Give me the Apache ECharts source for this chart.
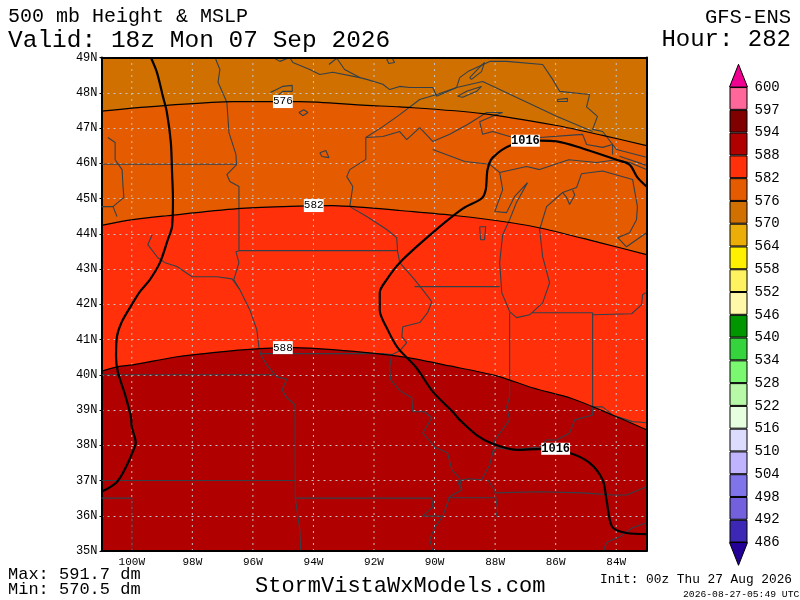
<!DOCTYPE html>
<html><head><meta charset="utf-8">
<script src="https://cdn.jsdelivr.net/npm/echarts@6/dist/echarts.min.js"></script>
<style>html,body{margin:0;background:#fff}#c{width:800px;height:600px}</style></head>
<body><div id="c"></div>
<script>
// ---- data (lon, lat) ----
const contourTop=[[-101,49],[-83,49]];
const c576=[[-101,47.48],[-98.84,47.64],[-96.66,47.75],[-94.45,47.75],[-92.24,47.64],[-91.15,47.6],[-88.41,47.41],[-85.97,47.07],[-84.45,46.79],[-83,46.5]];
const c582=[[-101,44.24],[-99.96,44.4],[-98.84,44.51],[-96.5,44.71],[-95.01,44.77],[-93.36,44.8],[-92.24,44.74],[-91.15,44.66],[-89.27,44.51],[-87.52,44.32],[-86.43,44.15],[-84.55,43.75],[-83,43.41]];
const c588=[[-101,40.1],[-100.46,40.23],[-99.96,40.28],[-98.51,40.51],[-97.32,40.63],[-95.77,40.74],[-94.68,40.77],[-93.36,40.71],[-91.15,40.52],[-89.5,40.25],[-87.95,39.97],[-86.77,39.63],[-85.45,39.32],[-84.13,38.86],[-83,38.44]];
const isobarWest=[[-99.37,49],[-99.17,48.58],[-98.97,47.89],[-98.84,47.44],[-98.71,46.59],[-98.67,45.74],[-98.64,44.97],[-98.67,44.2],[-98.81,43.83],[-99.07,43.18],[-99.4,42.7],[-99.73,42.36],[-100,41.99],[-100.33,41.5],[-100.49,41.08],[-100.52,40.51],[-100.46,40.08],[-100.22,39.43],[-100.03,38.81],[-100,38.52],[-99.87,38.07],[-99.97,37.81],[-100.16,37.44],[-100.49,36.96],[-101,36.68]];
const isobarEast=[[-83,45.34],[-83.3,45.6],[-83.56,45.96],[-83.99,46.1],[-85.11,46.42],[-85.97,46.62],[-86.53,46.64],[-87.42,46.53],[-88.08,46.16],[-88.25,45.82],[-88.31,45.25],[-88.45,45],[-89.07,44.71],[-90.06,44.03],[-91.15,43.18],[-91.58,42.7],[-91.81,42.33],[-91.81,41.84],[-91.55,41.28],[-91.22,40.77],[-90.6,40.2],[-90.06,39.52],[-89.4,38.95],[-89.17,38.72],[-88.61,38.29],[-88.08,38.04],[-87.29,37.87],[-86.43,37.9],[-85.54,37.78],[-84.88,37.5],[-84.45,37.02],[-84.32,36.45],[-84.13,35.68],[-83.66,35.51],[-83,35.48]];
const heightLabels=[[-95.01,47.75,'576'],[-93.99,44.8,'582'],[-95.01,40.77,'588']];
const pressureLabels=[[-87,46.64,'1016'],[-86,37.9,'1016']];
const gridLons=[-100,-98,-96,-94,-92,-90,-88,-86,-84];
const borders=[
 [[-101,45.97],[-96.54,45.97]],
 [[-97.25,49],[-97.09,48.66],[-97.15,48.3],[-96.86,47.73],[-96.79,46.87],[-96.56,46.25],[-96.54,45.96],[-96.86,45.68],[-96.76,45.48],[-96.46,45.34],[-96.46,43.52],[-96.56,43.49],[-96.46,43.18],[-96.63,42.7],[-96.43,42.41],[-96.1,41.84],[-95.87,41.28],[-95.8,40.77],[-95.74,40.57],[-95.54,40.28],[-95.21,39.94],[-94.88,39.88],[-95.04,39.57],[-94.88,39.35],[-94.61,39.15],[-94.6,36.5],[-94.45,35.6],[-94.42,35]],
 [[-100.79,46.73],[-100.55,46.59],[-100.55,46.1],[-100.32,45.82],[-100.29,45.34],[-100.26,45.03],[-100.62,44.77],[-101,44.77]],
 [[-100.62,44.77],[-100.49,44.49]],
 [[-99.33,43.97],[-99.47,43.69],[-99.14,43.32],[-98.9,43.18],[-98.51,43.07],[-98.01,42.78],[-97.19,42.78],[-96.69,42.72],[-96.43,42.41]],
 [[-96.46,43.52],[-91.22,43.52]],
 [[-101,40],[-95.31,40]],
 [[-95.77,40.6],[-91.73,40.6],[-91.41,40.57]],
 [[-101,37],[-94.6,37]],
 [[-101,36.5],[-100,36.5],[-100,35]],
 [[-94.6,36.5],[-90.09,36.5],[-90.06,36.25],[-90.39,35.99],[-89.73,35.99]],
 [[-92.27,46.73],[-92.27,46.11],[-92.8,45.82],[-92.9,45.62],[-92.7,45.34],[-92.8,44.77],[-92.24,44.49],[-91.58,44.12],[-91.25,43.89],[-91.22,43.49],[-91.15,43.18],[-90.66,42.7],[-90.39,42.41],[-90.09,42.07],[-90.23,41.76],[-90.49,41.48],[-91.05,41.36],[-91.08,41.08],[-90.92,40.91],[-91.15,40.68],[-91.41,40.57],[-91.48,40.23],[-91.45,39.86],[-91.15,39.55],[-90.75,39.35],[-90.72,38.95],[-90.33,38.95],[-90.09,38.78],[-90.39,38.35],[-89.99,37.95],[-89.57,37.78],[-89.43,37.3],[-89.17,37.07],[-89.1,36.74],[-89.5,36.54],[-89.73,35.98],[-89.99,35.67],[-90.16,35.33],[-90.06,35]],
 [[-90.66,42.5],[-87.85,42.5]],
 [[-87.52,41.76],[-87.52,39.38],[-87.62,39.09],[-87.52,38.72],[-88.01,38.15],[-88.08,37.78],[-88.18,37.44],[-88.45,37.02],[-88.91,37.05],[-89.25,36.98],[-89.1,36.74]],
 [[-86.79,41.76],[-84.78,41.76],[-84.78,39.09]],
 [[-84.78,41.7],[-83.49,41.73],[-83.16,41.99],[-83.13,42.27],[-83.03,42.33]],
 [[-83,38.64],[-83.46,38.67],[-84.12,38.86],[-84.45,39.09],[-84.78,39.09],[-84.78,38.86],[-85.37,38.72],[-85.54,38.35],[-85.97,38.15],[-86.3,38.15],[-86.53,37.95],[-87.42,37.87],[-87.95,37.93],[-88.08,37.78]],
 [[-88.01,36.65],[-86.53,36.68],[-85.11,36.65],[-84.12,36.59],[-83.66,36.59],[-83,36.82]],
 [[-84.38,35],[-84.38,35.12],[-84.28,35.26],[-83.89,35.4],[-83.46,35.66],[-83,35.8]],
 [[-89.57,36.51],[-88.01,36.51]],
 [[-88.25,37.02],[-88.01,36.73],[-87.92,36.17],[-87.98,35.94]],
 [[-90.06,46.39],[-89,46.05],[-88.18,45.97],[-87.85,45.74],[-87.75,45.25],[-88.01,44.63],[-87.62,44.6],[-87.36,45.05],[-86.93,45.45],[-87.3,44.88],[-87.52,44.4],[-87.75,43.97],[-87.85,43.18],[-87.78,42.33],[-87.52,41.79],[-87.29,41.62],[-86.86,41.7],[-86.43,42.04],[-86.2,42.61],[-86.43,43.35],[-86.53,44.12],[-86.3,44.77],[-85.77,45.17],[-85.31,45.31],[-85.15,45.7],[-84.45,45.78],[-83.46,45.54],[-83.3,44.77],[-83.33,44.4],[-83.56,44.03],[-83.95,43.89],[-83.66,43.63],[-83,44.03]],
 [[-85.77,45.17],[-85.64,45.03],[-85.54,44.83],[-85.37,45.1],[-85.44,45.24]],
 [[-87.85,45.74],[-86.96,45.91],[-86.53,45.82],[-85.57,46.1],[-84.65,46.02],[-83.99,46.1],[-83.56,46.02],[-83,45.82]],
 [[-92.27,46.73],[-91.71,46.76],[-91.15,46.9],[-90.92,46.67],[-90.49,47.01],[-90.06,46.62],[-89.5,46.82],[-88.91,47.1],[-88.28,47.44],[-87.75,47.44],[-87.95,47.38],[-88.51,47.18],[-88.41,46.82],[-88.08,46.9],[-87.52,46.76],[-86.53,46.73],[-85.11,46.82],[-84.98,46.53],[-84.45,46.45],[-84.12,46.53],[-84.12,46.25]],
 [[-92.27,46.73],[-91.71,47.04],[-91.15,47.38],[-90.49,47.81],[-89.93,47.95],[-89.27,48.15],[-89.17,48.43],[-88.9,48.6],[-88.18,48.89],[-87.62,48.89],[-86.43,48.8],[-86.1,48.38],[-85.87,48.04],[-84.88,47.95],[-84.98,47.6],[-84.62,47.33],[-84.78,46.96],[-84.45,46.9],[-83.99,46.39],[-83,46.17]],
 [[-83.89,46.2],[-83,45.94]],
 [[-95.33,49],[-95.11,48.89],[-94.78,49],[-94.68,48.86],[-94.12,48.66],[-93.79,48.52],[-93.36,48.58],[-92.47,48.43],[-92.24,48.38],[-91.71,48.24],[-91.48,48.09],[-91.15,48.18],[-90.82,48.15],[-90.06,48.15],[-89.93,47.9],[-89.27,48.15],[-88.41,48.32],[-85.97,47.33],[-84.78,46.9]],
 [[-95.42,48.01],[-95.02,48.18],[-94.7,48.21],[-94.7,48.04],[-95.02,48.04],[-95.31,47.81]],
 [[-94.48,47.44],[-94.32,47.52],[-94.18,47.44],[-94.35,47.35],[-94.48,47.44]],
 [[-93.79,46.3],[-93.59,46.36],[-93.49,46.16],[-93.72,46.19],[-93.79,46.3]],
 [[-93.49,48.8],[-93.23,48.98],[-92.97,48.66],[-92.47,48.43]],
 [[-91.58,48.95],[-91.41,49],[-91.32,48.86],[-91.51,48.83],[-91.58,48.95]],
 [[-89.24,47.9],[-88.94,48.04],[-88.45,48.18],[-88.61,48.04],[-89.07,47.87],[-89.24,47.9]],
 [[-88.84,48.43],[-88.58,48.66],[-88.35,48.86],[-88.45,48.6],[-88.78,48.38],[-88.84,48.43]],
 [[-85.94,47.81],[-85.61,47.84],[-85.61,47.75],[-85.94,47.75],[-85.94,47.81]],
 [[-88.51,44.2],[-88.31,44.2],[-88.35,43.83],[-88.48,43.83],[-88.51,44.2]]
];
const barLabels=['486','492','498','504','510','516','522','528','534','540','546','552','558','564','570','576','582','588','594','597','600'];
const barColors=['#3C28B4','#7360DC','#8074EA','#C0B4FF','#DCDCFF','#E6FFDE','#B8F9A8','#7AF870','#36D43C','#009600','#FFF8A8','#FFF261','#FFF000','#EBAE08','#D07000','#E55B00','#FF300A','#B00000','#800000','#FF6699'];
const capLow='#230096', capHigh='#F00090';
const FONT='Liberation Mono';
const GRID='#c4c4c4', LINE='#33404a';
// ---- chart ----
const contourFill=[[contourTop,'#D07000'],[c576,'#E55B00'],[c582,'#FF300A'],[c588,'#B00000']];
const series=[];
contourFill.forEach(([d,col],i)=>series.push({type:'line',data:d,symbol:'none',smooth:0.3,silent:true,z:1+i*0.01,
  lineStyle:{width:0},areaStyle:{color:col,opacity:1,origin:'start'}}));
gridLons.forEach(l=>series.push({type:'line',data:[[l,35],[l,49]],symbol:'none',silent:true,z:3,lineStyle:{width:1,color:GRID,type:[2,4]}}));
borders.forEach(b=>series.push({type:'line',data:b,symbol:'none',silent:true,z:4,lineStyle:{width:1.1,color:LINE}}));
[c576,c582,c588].forEach(c=>series.push({type:'line',data:c,symbol:'none',smooth:0.3,silent:true,z:5,lineStyle:{width:1.2,color:'#000'}}));
[isobarWest,isobarEast].forEach(c=>series.push({type:'line',data:c,symbol:'none',smooth:0.3,silent:true,z:6,lineStyle:{width:2.2,color:'#000'}}));
const lab=(d,bold,z)=>({type:'scatter',data:d,symbolSize:0,silent:true,z,itemStyle:{opacity:1},
  label:{show:true,position:'inside',formatter:p=>p.value[2],fontFamily:FONT,fontSize:bold?12:11,fontWeight:bold?'bold':'normal',color:'#000',backgroundColor:'#fff',padding:bold?[0,0]:[1,0],opacity:1}});
series.push(lab(heightLabels,false,7),lab(pressureLabels,true,7));
// colour bar
barColors.forEach((col,i)=>series.push({type:'bar',xAxisIndex:2,yAxisIndex:2,stack:'bar',barWidth:'100%',data:[1],silent:true,z:3,
  itemStyle:{color:col,borderColor:'#000',borderWidth:1}}));
series.push({type:'custom',xAxisIndex:2,yAxisIndex:2,silent:true,z:3,data:[[0,0,-1],[0,20,21]],clip:false,
  renderItem:(p,api)=>{
    const base=api.coord([0,api.value(1)]),tip=api.coord([0,api.value(2)]),w=9;
    return {type:'polygon',shape:{points:[[base[0]-w,base[1]],[base[0]+w,base[1]],[tip[0],tip[1]]]},
      style:{fill:p.dataIndex===0?capLow:capHigh,stroke:'#000',lineWidth:1}};
  }});
const t=(text,pos,size,y)=>Object.assign({text,top:y,textStyle:{fontFamily:FONT,fontSize:size,fontWeight:'normal',color:'#000'},padding:0},pos);
const opt={
 animation:false,backgroundColor:'#fff',
 title:[
  t('500 mb Height & MSLP',{left:8},20,7),
  t('Valid: 18z Mon 07 Sep 2026',{left:8},24.5,28),
  t('GFS-ENS',{right:9},20.5,7),
  t('Hour: 282',{right:9},24,28),
  t('Max: 591.7 dm',{left:8},17,566),
  t('Min: 570.5 dm',{left:8},17,581),
  t('StormVistaWxModels.com',{left:255},22,575),
  t('Init: 00z Thu 27 Aug 2026',{left:600},12.8,573),
  t('2026-08-27-05:49 UTC',{left:683},9.7,589)
 ],
 grid:[{left:101.5,top:57.5,width:545,height:493.5},{left:729.5,top:64.3,width:18,height:501}],
 xAxis:[
  {type:'value',gridIndex:0,min:-101,max:-83,interval:1,z:8,
   axisLine:{show:true,lineStyle:{color:'#000',width:2},onZero:false},axisTick:{show:false},
   axisLabel:{formatter:v=>(v%2===0)?(-v)+'W':'',fontFamily:FONT,fontSize:11,color:'#000',margin:6},
   splitLine:{show:false}},
  {type:'value',gridIndex:0,position:'top',min:-101,max:-83,z:8,axisLine:{show:true,lineStyle:{color:'#000',width:2},onZero:false},axisTick:{show:false},axisLabel:{show:false},splitLine:{show:false}},
  {type:'category',gridIndex:1,data:['c'],axisLine:{show:false},axisTick:{show:false},axisLabel:{show:false},splitLine:{show:false}}
 ],
 yAxis:[
  {type:'value',gridIndex:0,min:35,max:49,interval:1,z:3,
   axisLine:{show:true,lineStyle:{color:'#000',width:2},onZero:false},axisTick:{show:true,length:2,lineStyle:{color:'#000'}},
   axisLabel:{formatter:v=>v+'N',fontFamily:FONT,fontSize:12,color:'#000',margin:4},
   splitLine:{show:true,lineStyle:{color:GRID,type:[2,4],width:1}}},
  {type:'value',gridIndex:0,position:'right',min:35,max:49,z:8,axisLine:{show:true,lineStyle:{color:'#000',width:2},onZero:false},axisTick:{show:false},axisLabel:{show:false},splitLine:{show:false}},
  {type:'value',gridIndex:1,min:-1,max:21,interval:1,axisLine:{show:false},axisTick:{show:false},splitLine:{show:false},
   axisLabel:{formatter:v=>(v>=0&&v<=20)?barLabels[v]:'',fontFamily:FONT,fontSize:14,color:'#000',margin:7},position:'right'}
 ],
 series
};
const chart=echarts.init(document.getElementById('c'),null,{renderer:'canvas'});
chart.setOption(opt);
</script></body></html>
